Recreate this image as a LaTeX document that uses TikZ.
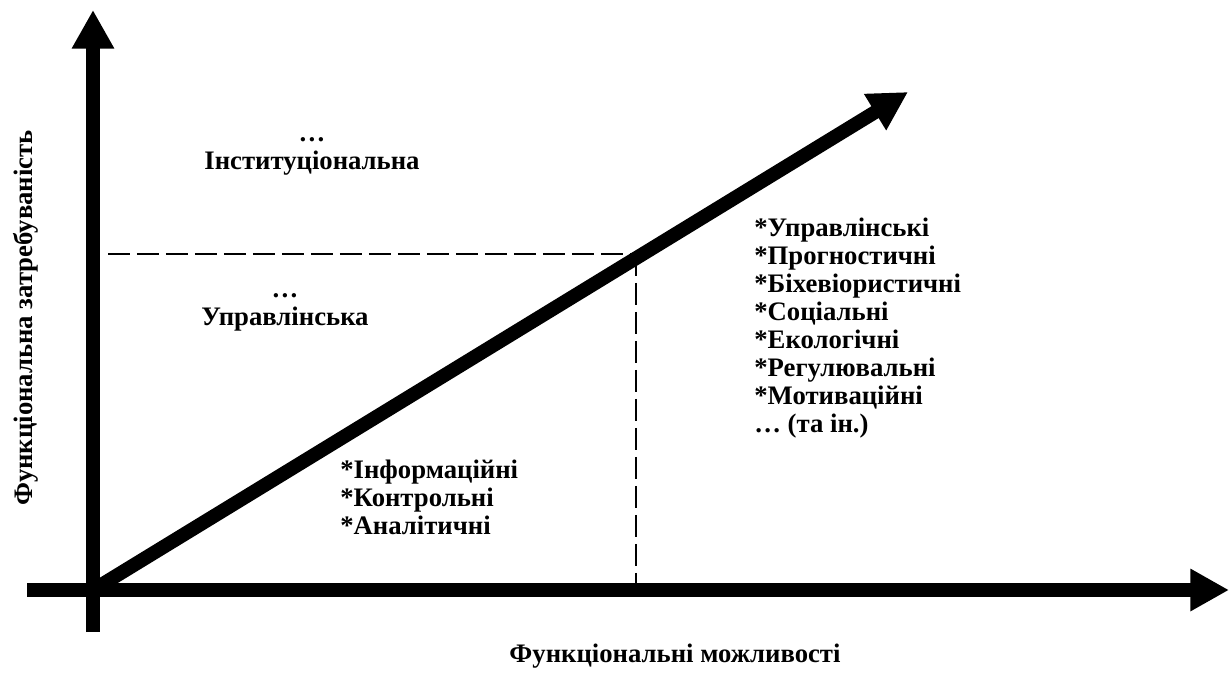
\documentclass[tikz,border=0pt]{standalone}
\usepackage{fontspec}
\setmainfont{Liberation Serif}
\usetikzlibrary{positioning}
\usetikzlibrary{arrows.meta}

\begin{document}
\begin{tikzpicture}[x=0.02cm,y=-0.02cm,
  axis/.style={line width=7.9pt,-{Triangle[length=22pt,width=22.7pt]}},
  guide/.style={line width=1.3pt,dash pattern=on 12.5pt off 4pt},
  lbl/.style={font=\fontsize{15.2}{15.9}\selectfont\bfseries,inner sep=0pt}]
 \useasboundingbox (0,0) rectangle (1229,673);
 \coordinate (O) at (93,590);
 \coordinate (P) at (636,254);
 \draw[guide](108,254)--(P);
 \draw[guide](P)--(P|-O);
 \draw[axis](93,632)--(93,10);
 \draw[axis](27,590)--(1229,590);
 \draw[axis](O)--(908,92);
 \node[lbl,align=center] (inst) at (312,156) {…\\Інституціональна};
 \node[lbl,align=center] (upr) at (285,312) {…\\Управлінська};
 \node[lbl,align=left,anchor=base west] (high) at (754,432) {*Управлінські\\*Прогностичні\\*Біхевіористичні\\*Соціальні\\*Екологічні\\*Регулювальні\\*Мотиваційні\\… (та ін.)};
 \node[lbl,align=left,anchor=base west] (low) at (340,534) {*Інформаційні\\*Контрольні\\*Аналітичні};
 \node[lbl,rotate=90] (ylab) at (26,318) {Функціональна затребуваність};
 \node[lbl] (xlab) at (675,656) {Функціональні можливості};
\end{tikzpicture}
\end{document}
